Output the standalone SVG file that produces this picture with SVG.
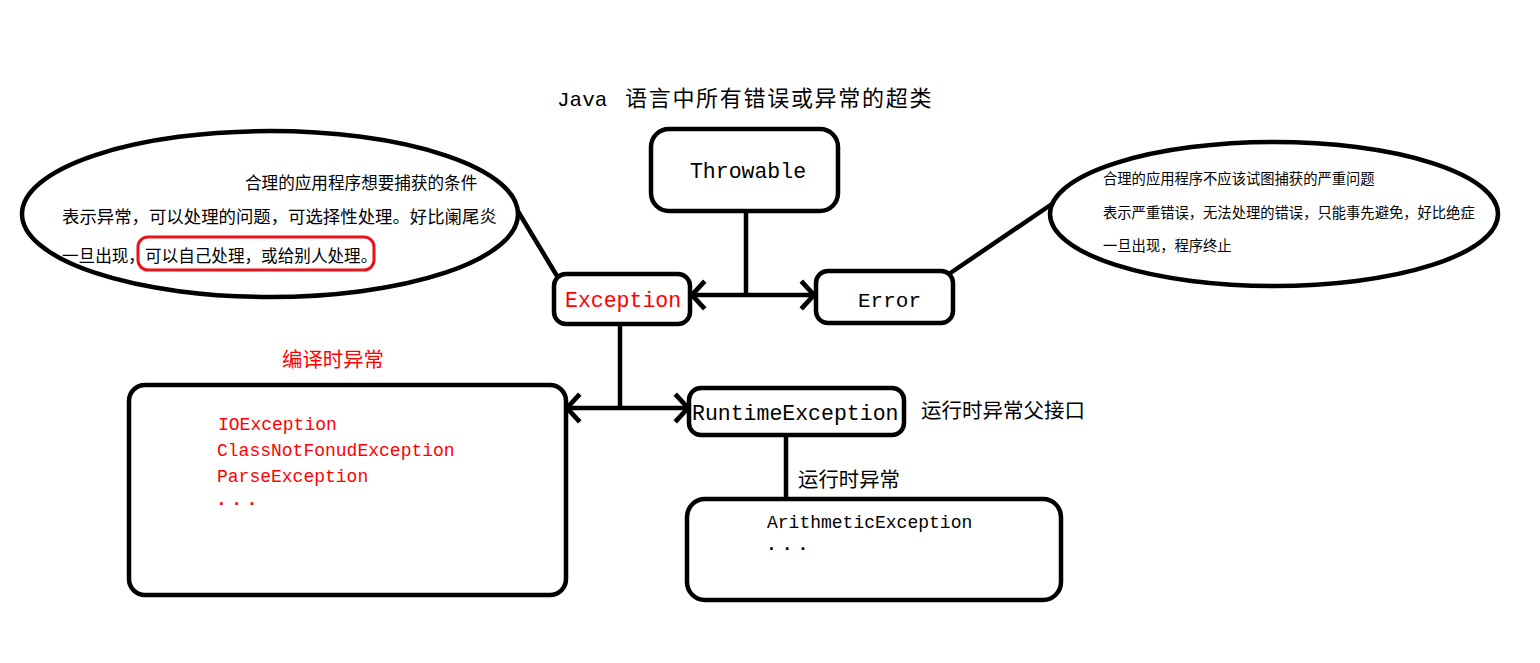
<svg xmlns="http://www.w3.org/2000/svg" width="1540" height="663" viewBox="0 0 1540 663">
<defs>
<style>
.box{fill:#fff;stroke:#000;stroke-width:4.5}
.ell{fill:#fff;stroke:#000;stroke-width:4.5}
.ln{fill:none;stroke:#000;stroke-width:4.5}
.lat{font-family:"Liberation Mono","Noto Sans CJK SC",monospace;fill:#000}
.cjk{font-family:"Noto Sans CJK SC","Liberation Serif",sans-serif;fill:#000}
.red{fill:#f00}
</style>
<marker id="arr" markerUnits="userSpaceOnUse" markerWidth="30" markerHeight="34" viewBox="-16 -16 20 32" refX="0" refY="0" orient="auto-start-reverse">
<path d="M -12 -13 L 0 0 L -12 13" fill="none" stroke="#000" stroke-width="4.5"/>
</marker>
</defs>
<rect width="1540" height="663" fill="#fff"/>

<g id="title">
<text class="lat" x="557" y="106" font-size="21">Java</text>
<text class="cjk" x="625" y="106" font-size="22" letter-spacing="1.7">语言中所有错误或异常的超类</text>
</g>

<g id="connectors">
<line class="ln" x1="746" y1="211" x2="746" y2="295"/>
<line class="ln" x1="692" y1="295" x2="814" y2="295" marker-start="url(#arr)" marker-end="url(#arr)"/>
<line class="ln" x1="620" y1="325" x2="620" y2="408"/>
<line class="ln" x1="567" y1="408" x2="688" y2="408" marker-start="url(#arr)" marker-end="url(#arr)"/>
<line class="ln" x1="786" y1="435" x2="786" y2="498"/>
<line class="ln" x1="516" y1="208" x2="557" y2="276"/>
<line class="ln" x1="946" y1="276" x2="1052" y2="204"/>
</g>

<g id="note-exception">
<ellipse class="ell" cx="270" cy="214" rx="248" ry="83"/>
<text class="cjk" x="245" y="189" font-size="16.6">合理的应用程序想要捕获的条件</text>
<text class="cjk" x="62" y="223" font-size="17.4">表示异常，可以处理的问题，可选择性处理。好比阑尾炎</text>
<text class="cjk" x="62" y="262" font-size="16.6">一旦出现，可以自己处理，或给别人处理。</text>
<rect x="138" y="237" width="236" height="33" rx="10" fill="none" stroke="#e8141c" stroke-width="3"/>
</g>

<g id="note-error">
<ellipse class="ell" cx="1274" cy="214" rx="224" ry="72"/>
<text class="cjk" x="1103" y="184" font-size="14.3">合理的应用程序不应该试图捕获的严重问题</text>
<text class="cjk" x="1103" y="218" font-size="14.3">表示严重错误，无法处理的错误，只能事先避免，好比绝症</text>
<text class="cjk" x="1103" y="251" font-size="14.3">一旦出现，程序终止</text>
</g>

<g id="throwable">
<rect class="box" x="651" y="129" width="187" height="82" rx="18"/>
<text class="lat" x="748" y="178" font-size="21.5" text-anchor="middle">Throwable</text>
</g>

<g id="exception">
<rect class="box" x="554" y="274" width="136" height="50" rx="12"/>
<text class="lat red" x="565" y="307" font-size="21.5">Exception</text>
</g>

<g id="error">
<rect class="box" x="816" y="271" width="137" height="52" rx="12"/>
<text class="lat" x="858" y="307" font-size="21">Error</text>
</g>

<g id="compile-time">
<text class="cjk red" x="282" y="367" font-size="20.4">编译时异常</text>
<rect class="box" x="129" y="385" width="437" height="210" rx="16"/>
<text class="lat red" x="218" y="430" font-size="18">IOException</text>
<text class="lat red" x="217" y="456" font-size="18">ClassNotFonudException</text>
<text class="lat red" x="217" y="482" font-size="18">ParseException</text>
<text class="lat red" x="216" y="505" font-size="18" letter-spacing="4.5" font-weight="bold">...</text>
</g>

<g id="runtime-exception">
<rect class="box" x="689" y="388" width="215" height="47" rx="12"/>
<text class="lat" x="692" y="420" font-size="21.5">RuntimeException</text>
<text class="cjk" x="921" y="418" font-size="20.5">运行时异常父接口</text>
</g>

<g id="runtime">
<text class="cjk" x="798" y="487" font-size="20.4">运行时异常</text>
<rect class="box" x="687" y="499" width="374" height="101" rx="18"/>
<text class="lat" x="767" y="528" font-size="18">ArithmeticException</text>
<text class="lat" x="766" y="550" font-size="18" letter-spacing="5" font-weight="bold">...</text>
</g>
</svg>
